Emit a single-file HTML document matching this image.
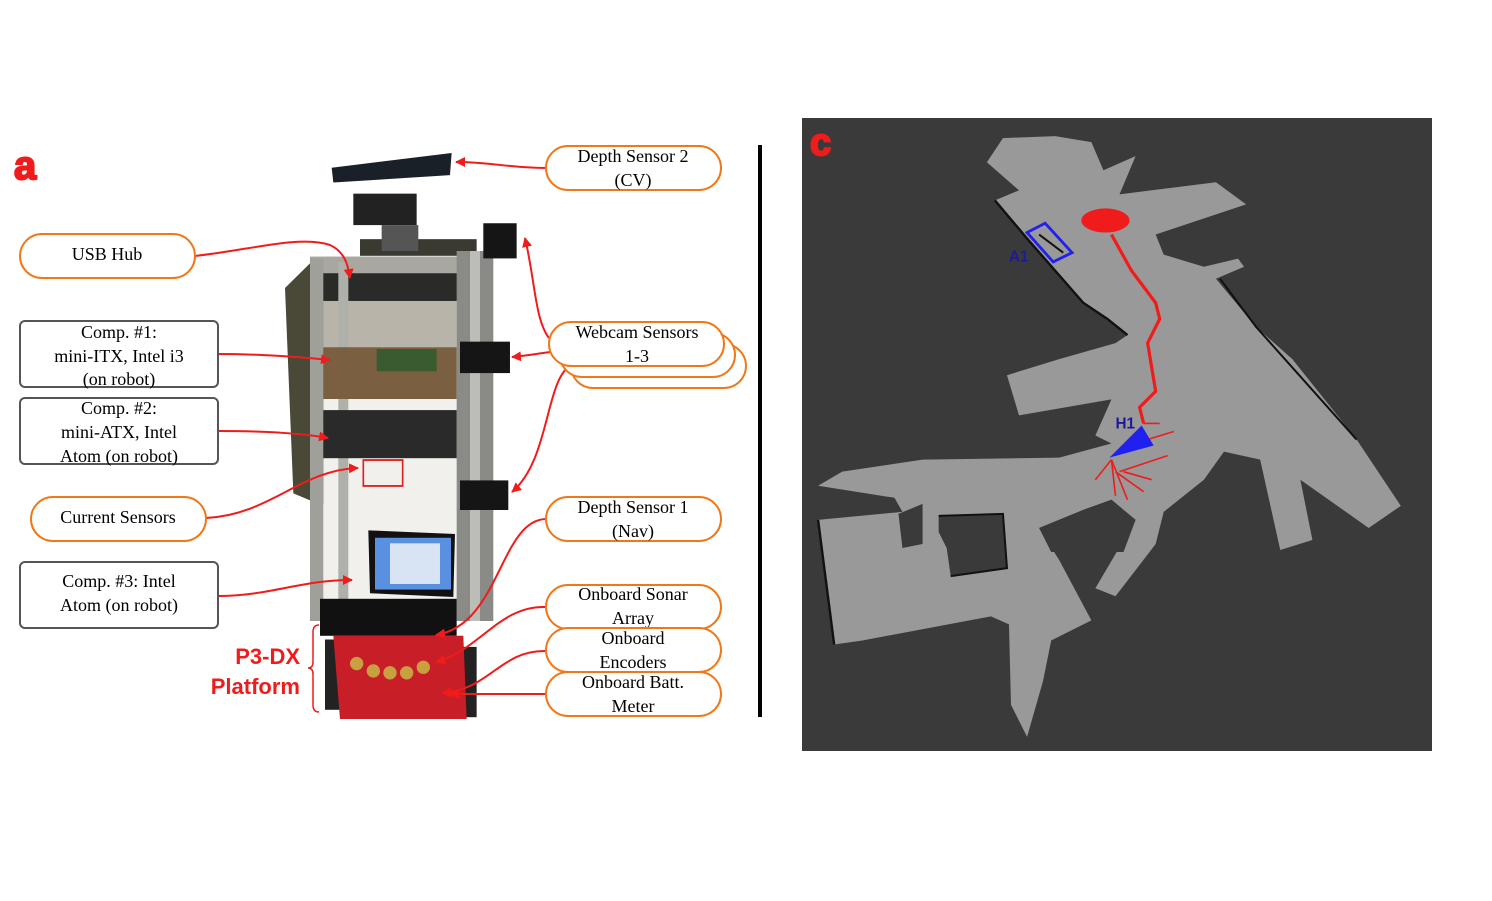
<!DOCTYPE html>
<html><head><meta charset="utf-8"><style>
html,body{margin:0;padding:0;background:#fff;}
svg{display:block}
.t{font-family:"Liberation Serif",serif;font-size:18px;fill:#000;text-anchor:middle}
.pill{fill:#fff;stroke:#f07818;stroke-width:2}
.box{fill:#fff;stroke:#555;stroke-width:2}
.ar{fill:none;stroke:#f01c1c;stroke-width:2}
</style></head><body>
<svg width="1492" height="901" viewBox="0 0 1492 901" xmlns="http://www.w3.org/2000/svg">
<defs>
<marker id="m" markerWidth="10" markerHeight="10" refX="9" refY="5" orient="auto" markerUnits="userSpaceOnUse" viewBox="0 0 10 10">
<path d="M0,0 L10,5 L0,10 z" fill="#f01c1c"/></marker>
</defs>
<text x="14" y="179" style="font-family:'Liberation Sans',sans-serif;font-weight:bold;font-size:40px;fill:#f01c1c;stroke:#f01c1c;stroke-width:2">a</text>

<!-- robot -->
<g transform="translate(270,140) scale(0.3333,0.37)">
<polygon points="45,400 135,320 240,320 245,960 150,985 70,955" fill="#4a4836"/>
<rect x="160" y="360" width="400" height="920" fill="#f2f0ec"/>
<rect x="160" y="360" width="400" height="200" fill="#b8b4aa"/>
<rect x="270" y="268" width="350" height="45" fill="#3a3a30"/>
<rect x="120" y="315" width="490" height="45" fill="#a8a8a0"/>
<rect x="150" y="360" width="420" height="75" fill="#2a2a28"/>
<rect x="120" y="320" width="40" height="980" fill="#a0a09a"/>
<rect x="205" y="330" width="30" height="970" fill="#b0b0aa"/>
<rect x="560" y="300" width="110" height="1000" fill="#8a8a86"/>
<rect x="600" y="300" width="30" height="1000" fill="#bdbdb8"/>
<rect x="160" y="560" width="400" height="140" fill="#7a6040"/>
<rect x="320" y="565" width="180" height="60" fill="#3a5a30"/>
<rect x="160" y="730" width="400" height="130" fill="#2a2a2a"/>
<rect x="280" y="865" width="118" height="70" fill="none" stroke="#e02020" stroke-width="5"/>
<polygon points="185,75 545,35 540,95 190,115" fill="#1a2028"/>
<rect x="250" y="145" width="190" height="85" fill="#222"/>
<rect x="335" y="230" width="110" height="70" fill="#555"/>
<rect x="640" y="225" width="100" height="95" fill="#151515"/>
<rect x="570" y="545" width="150" height="85" fill="#151515"/>
<rect x="570" y="920" width="145" height="80" fill="#151515"/>
<polygon points="295,1055 555,1065 550,1235 300,1225" fill="#111"/>
<rect x="315" y="1075" width="228" height="140" fill="#5a90e0"/>
<rect x="360" y="1090" width="150" height="110" fill="#d8e4f4"/>
<rect x="150" y="1240" width="410" height="100" fill="#111"/>
<rect x="165" y="1350" width="55" height="190" fill="#222"/>
<rect x="555" y="1370" width="65" height="190" fill="#222"/>
<polygon points="190,1340 580,1340 590,1565 210,1565" fill="#c81e28"/>
<g fill="#c8a040"><ellipse cx="260" cy="1415" rx="20" ry="18"/><ellipse cx="310" cy="1435" rx="20" ry="18"/><ellipse cx="360" cy="1440" rx="20" ry="18"/><ellipse cx="410" cy="1440" rx="20" ry="18"/><ellipse cx="460" cy="1425" rx="20" ry="18"/></g>
</g>

<!-- P3-DX -->
<text x="300" y="664" style="font-family:'Liberation Sans',sans-serif;font-weight:bold;font-size:22px;fill:#f01c1c;text-anchor:end">P3-DX</text>
<text x="300" y="694" style="font-family:'Liberation Sans',sans-serif;font-weight:bold;font-size:22px;fill:#f01c1c;text-anchor:end">Platform</text>
<path d="M319,625 Q313,625 313,632 L313,662 Q313,668 308,668 Q313,668 313,674 L313,705 Q313,712 319,712" fill="none" stroke="#f01c1c" stroke-width="1.5"/>

<!-- arrows -->
<path class="ar" marker-end="url(#m)" d="M546,168 C510,168 490,162 456,162"/>
<path class="ar" marker-end="url(#m)" d="M195,256 C250,250 300,235 330,245 C345,252 348,265 350,278"/>
<path class="ar" marker-end="url(#m)" d="M218,354 C260,354 300,357 330,360"/>
<path class="ar" marker-end="url(#m)" d="M218,431 C260,431 300,433 328,438"/>
<path class="ar" marker-end="url(#m)" d="M206,518 C270,515 300,470 358,468"/>
<path class="ar" marker-end="url(#m)" d="M218,596 C270,596 300,580 352,580"/>
<path class="ar" marker-end="url(#m)" d="M550,352 C535,354 525,356 512,357"/>
<path class="ar" marker-end="url(#m)" d="M549,338 C535,320 535,280 525,238"/>
<path class="ar" marker-end="url(#m)" d="M571,365 C545,380 550,460 512,492"/>
<path class="ar" marker-end="url(#m)" d="M546,519 C500,520 500,625 436,635"/>
<path class="ar" marker-end="url(#m)" d="M546,607 C500,605 480,650 436,662"/>
<path class="ar" marker-end="url(#m)" d="M546,651 C500,650 490,690 442,693"/>
<path class="ar" marker-end="url(#m)" d="M546,694 L450,694"/>

<!-- labels -->
<rect class="pill" x="546" y="146" width="175" height="44" rx="22"/>
<text class="t" x="633" y="162">Depth Sensor 2</text><text class="t" x="633" y="186">(CV)</text>
<rect class="pill" x="20" y="234" width="175" height="44" rx="22"/>
<text class="t" x="107" y="260">USB Hub</text>
<rect class="box" x="20" y="321" width="198" height="66" rx="5"/>
<text class="t" x="119" y="338">Comp. #1:</text><text class="t" x="119" y="362">mini-ITX, Intel i3</text><text class="t" x="119" y="385">(on robot)</text>
<rect class="box" x="20" y="398" width="198" height="66" rx="5"/>
<text class="t" x="119" y="414">Comp. #2:</text><text class="t" x="119" y="438">mini-ATX, Intel</text><text class="t" x="119" y="462">Atom (on robot)</text>
<rect class="pill" x="31" y="497" width="175" height="44" rx="22"/>
<text class="t" x="118" y="523">Current Sensors</text>
<rect class="box" x="20" y="562" width="198" height="66" rx="5"/>
<text class="t" x="119" y="587">Comp. #3: Intel</text><text class="t" x="119" y="611">Atom (on robot)</text>
<rect class="pill" x="571" y="344" width="175" height="44" rx="22"/>
<rect class="pill" x="560" y="333" width="175" height="44" rx="22"/>
<rect class="pill" x="549" y="322" width="175" height="44" rx="22"/>
<text class="t" x="637" y="338">Webcam Sensors</text><text class="t" x="637" y="362">1-3</text>
<rect class="pill" x="546" y="497" width="175" height="44" rx="22"/>
<text class="t" x="633" y="513">Depth Sensor 1</text><text class="t" x="633" y="537">(Nav)</text>
<rect class="pill" x="546" y="585" width="175" height="44" rx="22"/>
<text class="t" x="633" y="600">Onboard Sonar</text><text class="t" x="633" y="624">Array</text>
<rect class="pill" x="546" y="628" width="175" height="44" rx="22"/>
<text class="t" x="633" y="644">Onboard</text><text class="t" x="633" y="668">Encoders</text>
<rect class="pill" x="546" y="672" width="175" height="44" rx="22"/>
<text class="t" x="633" y="688">Onboard Batt.</text><text class="t" x="633" y="712">Meter</text>

<rect x="758" y="145" width="4" height="572" fill="#000"/>

<!-- map -->
<rect x="802" y="118" width="630" height="633" fill="#3a3a3a"/>
<g transform="translate(802,118) scale(0.4019)">
<polygon fill="#999" points="500,50 630,45 720,60 750,130 830,95 790,190 1030,160 1105,215 880,290 900,340 1000,370 1085,350 1100,370 1030,400 1130,520 1220,600 1380,800 1490,965 1410,1020 1240,900 1270,1050 1190,1075 1140,850 1050,830 1000,900 900,980 880,1060 780,1190 730,1170 830,1000 770,950 700,975 590,1020 640,1100 720,1250 620,1300 600,1400 560,1540 520,1460 515,1260 470,1240 150,1300 80,1310 40,1000 250,980 230,945 40,915 100,880 300,850 640,845 770,810 730,790 770,700 540,740 510,640 640,600 780,560 810,540 700,460 560,300 480,205 540,180 460,110"/>
<polygon fill="#3a3a3a" points="340,990 500,985 510,1120 370,1140 360,1070 340,1030"/>
<polygon fill="#3a3a3a" points="240,985 300,960 300,1060 250,1070"/>
<polygon fill="#3a3a3a" points="590,1020 700,975 770,950 830,1000 800,1080 620,1080"/>
<polyline fill="none" stroke="#111" stroke-width="6" points="480,205 560,300 700,460 760,500 810,540"/>
<polyline fill="none" stroke="#111" stroke-width="5" points="1040,400 1130,520 1380,800"/>
<polyline fill="none" stroke="#111" stroke-width="6" points="40,1000 80,1310"/>
<polyline fill="none" stroke="#111" stroke-width="5" points="340,990 500,985 510,1120 370,1140"/>
<g fill="#f01c1c"><ellipse cx="755" cy="255" rx="60" ry="30"/></g>
<polyline fill="none" stroke="#f01c1c" stroke-width="8" points="770,290 820,380 880,460 890,500 860,560 870,620 880,680 840,720 850,760"/>
<g stroke="#f01c1c" stroke-width="4">
<line x1="770" y1="850" x2="730" y2="900"/><line x1="770" y1="850" x2="780" y2="940"/><line x1="780" y1="880" x2="850" y2="930"/><line x1="790" y1="880" x2="910" y2="840"/><line x1="860" y1="800" x2="925" y2="780"/><line x1="770" y1="850" x2="810" y2="950"/><line x1="800" y1="880" x2="870" y2="900"/><line x1="850" y1="760" x2="890" y2="760"/>
</g>
<polygon fill="#2020f0" points="765,845 845,765 875,815"/>
<polygon fill="none" stroke="#2020f0" stroke-width="7" points="560,285 605,262 672,335 625,358"/>
<line x1="590" y1="290" x2="650" y2="335" stroke="#111" stroke-width="5"/>
<text x="515" y="357" style="font-family:'Liberation Sans',sans-serif;font-weight:bold;font-size:38px;fill:#1a1a9a">A1</text>
<text x="780" y="772" style="font-family:'Liberation Sans',sans-serif;font-weight:bold;font-size:38px;fill:#1a1a9a">H1</text>
</g>
<text x="810" y="155" style="font-family:'Liberation Sans',sans-serif;font-weight:bold;font-size:38px;fill:#f01c1c;stroke:#f01c1c;stroke-width:2">c</text>
</svg>
</body></html>
